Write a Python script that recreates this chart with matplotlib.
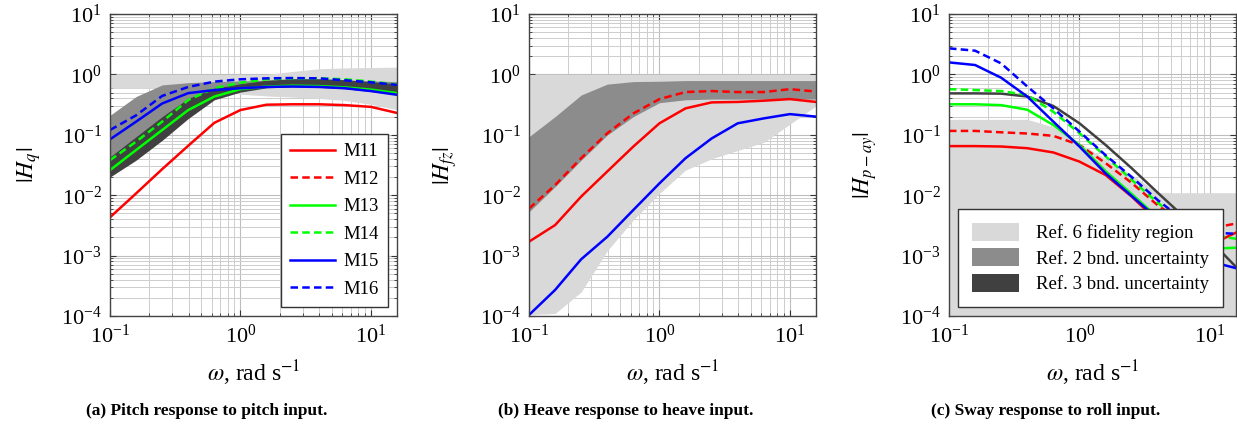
import matplotlib
matplotlib.use("Agg")
import matplotlib.pyplot as plt
from matplotlib.ticker import LogLocator, NullFormatter
from matplotlib.patches import Patch

plt.rcParams['font.family'] = 'serif'
plt.rcParams['font.serif'] = ['Liberation Serif', 'DejaVu Serif']
plt.rcParams['mathtext.fontset'] = 'stix'

# ---------------- data ----------------
freq = [0.1, 0.1585, 0.2512, 0.3981, 0.631, 1.0, 1.585, 2.512, 3.981, 6.31, 10.0, 15.85]

# (a) pitch response to pitch input
a_M11 = [0.0043, 0.0107, 0.027, 0.066, 0.158, 0.257, 0.315, 0.32, 0.32, 0.31, 0.29, 0.23]
a_M13 = [0.026, 0.056, 0.12, 0.257, 0.43, 0.57, 0.63, 0.65, 0.64, 0.61, 0.56, 0.49]
a_M14 = [0.038, 0.077, 0.165, 0.377, 0.59, 0.73, 0.83, 0.86, 0.86, 0.83, 0.76, 0.68]
a_M15 = [0.084, 0.165, 0.33, 0.49, 0.55, 0.59, 0.62, 0.63, 0.62, 0.59, 0.53, 0.46]
a_M16 = [0.12, 0.21, 0.44, 0.62, 0.76, 0.83, 0.86, 0.87, 0.86, 0.80, 0.74, 0.67]
a_ref6_lo = [0.59, 0.59, 0.59, 0.59, 0.55, 0.47, 0.44, 0.42, 0.40, 0.37, 0.32, 0.26]
a_ref6_hi = [1.0, 1.0, 1.0, 1.0, 1.0, 1.0, 1.0, 1.12, 1.24, 1.28, 1.30, 1.32]
a_ref2_lo = [0.040, 0.085, 0.19, 0.38, 0.57, 0.65, 0.66, 0.66, 0.65, 0.62, 0.58, 0.52]
a_ref2_hi = [0.21, 0.43, 0.67, 0.73, 0.76, 0.78, 0.80, 0.82, 0.82, 0.80, 0.78, 0.76]
a_ref3_lo = [0.020, 0.038, 0.081, 0.186, 0.38, 0.51, 0.60, 0.62, 0.61, 0.58, 0.52, 0.46]
a_ref3_hi = [0.043, 0.093, 0.20, 0.40, 0.59, 0.70, 0.80, 0.85, 0.85, 0.82, 0.76, 0.70]

# (b) heave response to heave input
b_M11 = [0.0017, 0.0032, 0.0095, 0.0247, 0.064, 0.155, 0.274, 0.344, 0.35, 0.367, 0.39, 0.35]
b_M12 = [0.006, 0.0147, 0.041, 0.106, 0.226, 0.39, 0.51, 0.53, 0.51, 0.51, 0.57, 0.52]
b_M15 = [0.000104, 0.00027, 0.00087, 0.00205, 0.0057, 0.0157, 0.041, 0.087, 0.155, 0.187, 0.22, 0.20]
b_ref6_lo = [0.000105, 0.00011, 0.00025, 0.0012, 0.0039, 0.0107, 0.026, 0.040, 0.055, 0.075, 0.150, 0.30]
b_ref6_hi = [1.0, 1.0, 1.0, 1.0, 1.0, 1.0, 1.0, 1.0, 1.0, 1.0, 1.0, 1.0]
b_ref2_lo = [0.0053, 0.0138, 0.038, 0.099, 0.20, 0.34, 0.38, 0.39, 0.39, 0.39, 0.39, 0.39]
b_ref2_hi = [0.093, 0.20, 0.456, 0.69, 0.76, 0.77, 0.79, 0.79, 0.79, 0.79, 0.79, 0.79]

# (c) sway response to roll input
c_M11 = [0.065, 0.065, 0.064, 0.060, 0.051, 0.036, 0.0216, 0.0095, 0.0037, 0.0016, 0.0015, 0.0024]
c_M12 = [0.116, 0.116, 0.11, 0.105, 0.096, 0.068, 0.034, 0.016, 0.0068, 0.0035, 0.0028, 0.0034]
c_M13 = [0.32, 0.32, 0.31, 0.26, 0.145, 0.068, 0.025, 0.0105, 0.0043, 0.0019, 0.0013, 0.00135]
c_M14 = [0.57, 0.55, 0.53, 0.456, 0.24, 0.106, 0.044, 0.018, 0.0075, 0.0035, 0.0022, 0.0019]
c_M15 = [1.58, 1.43, 0.88, 0.43, 0.165, 0.064, 0.023, 0.0097, 0.0041, 0.0017, 0.0008, 0.00062]
c_M16 = [2.7, 2.47, 1.52, 0.63, 0.274, 0.113, 0.046, 0.020, 0.0083, 0.0038, 0.0024, 0.0023]
c_ref3 = [0.485, 0.485, 0.48, 0.43, 0.30, 0.155, 0.068, 0.028, 0.011, 0.0044, 0.0018, 0.00065]
c_ref6_lo = [1e-4] * 12
c_ref6_hi = [0.18, 0.18, 0.18, 0.18, 0.135, 0.073, 0.04, 0.022, 0.011, 0.011, 0.011, 0.011]

series_names = ['M11', 'M12', 'M13', 'M14', 'M15', 'M16']
ref_names = ['Ref. 6 fidelity region', 'Ref. 2 bnd. uncertainty', 'Ref. 3 bnd. uncertainty']
ylabels = [r'$|H_q|$', r'$|H_{fz}|$', r'$|H_{p-ay}|$']
xlabel = r'$\omega$, rad s$^{-1}$'
captions = ['(a) Pitch response to pitch input.',
            '(b) Heave response to heave input.',
            '(c) Sway response to roll input.']

# ---------------- styles ----------------
RED, GREEN, BLUE = '#ff0000', '#00ff00', '#0000ff'
LIGHT, MED, DARK = '#d9d9d9', '#8c8c8c', '#404040'
LW = 1.8
DASH = (3.0, 1.7)
styles = {
    'M11': dict(color=RED, ls='-'),
    'M12': dict(color=RED, ls=(0, DASH)),
    'M13': dict(color=GREEN, ls='-'),
    'M14': dict(color=GREEN, ls=(0, DASH)),
    'M15': dict(color=BLUE, ls='-'),
    'M16': dict(color=BLUE, ls=(0, DASH)),
}

W, H = 1237, 426
fig = plt.figure(figsize=(W / 100, H / 100), dpi=100)
lefts = [110, 529, 949]
label_x = [-0.232, -0.245, -0.245]
axes = [fig.add_axes([l / W, (H - 316) / H, 287 / W, 302 / H]) for l in lefts]

TFS = 16
for ax, yl, cap, l, lx in zip(axes, ylabels, captions, lefts, label_x):
    ax.set_xscale('log')
    ax.set_yscale('log')
    ax.set_xlim(freq[0], freq[-1])
    ax.set_ylim(1e-4, 1e1)
    ax.set_xticks([0.1, 1, 10])
    ax.set_yticks([1e-4, 1e-3, 1e-2, 1e-1, 1e0, 1e1])
    ax.xaxis.set_minor_locator(LogLocator(base=10, subs=range(2, 10), numticks=20))
    ax.yaxis.set_minor_locator(LogLocator(base=10, subs=range(2, 10), numticks=20))
    ax.xaxis.set_minor_formatter(NullFormatter())
    ax.yaxis.set_minor_formatter(NullFormatter())
    ax.set_axisbelow(True)
    ax.grid(True, which='major', color='#bdbdbd', lw=0.8)
    ax.grid(True, which='minor', color='#cdcdcd', lw=0.7)
    ax.tick_params(which='both', direction='in', top=True, right=True, colors='#333333',
                   labelcolor='black', labelsize=TFS)
    ax.tick_params(which='major', length=4, pad=6)
    ax.tick_params(which='minor', length=2)
    for s in ax.spines.values():
        s.set_color('#444444')
        s.set_linewidth(1.0)
    ax.set_ylabel(yl, fontsize=17)
    ax.yaxis.set_label_coords(lx, 0.5)
    ax.set_xlabel(xlabel, fontsize=17, labelpad=8)
    fig.text((l + 143.5 - 47) / W, 15 / H, cap, ha='center', va='center',
             fontsize=12.5, fontweight='bold')

# panel (a)
ax = axes[0]
ax.fill_between(freq, a_ref6_lo, a_ref6_hi, color=LIGHT, lw=0, zorder=1)
ax.fill_between(freq, a_ref2_lo, a_ref2_hi, color=MED, lw=0, zorder=1.1)
ax.fill_between(freq, a_ref3_lo, a_ref3_hi, color=DARK, lw=0, zorder=1.2)
a_data = {'M11': a_M11, 'M12': None, 'M13': a_M13, 'M14': a_M14, 'M15': a_M15, 'M16': a_M16}
handles = []
for name in series_names:
    d = a_data[name]
    if d is None:
        h, = ax.plot([], [], lw=LW, label=name, **styles[name])
    else:
        h, = ax.plot(freq, d, lw=LW, label=name, zorder=2, **styles[name])
    handles.append(h)
leg = ax.legend(handles=handles, loc='lower right', bbox_to_anchor=(0.969, 0.03),
                borderaxespad=0, fontsize=13.5, frameon=True, fancybox=False, framealpha=1,
                edgecolor='#333333', handlelength=2.4, labelspacing=0.55,
                borderpad=0.5, handletextpad=0.45)
leg.get_frame().set_linewidth(1.0)
leg.set_zorder(5)

# panel (b)
ax = axes[1]
ax.fill_between(freq, b_ref6_lo, b_ref6_hi, color=LIGHT, lw=0, zorder=1)
ax.fill_between(freq, b_ref2_lo, b_ref2_hi, color=MED, lw=0, zorder=1.1)
for name, d in [('M11', b_M11), ('M12', b_M12), ('M15', b_M15)]:
    ax.plot(freq, d, lw=LW, zorder=2, **styles[name])

# panel (c)
ax = axes[2]
ax.fill_between(freq, c_ref6_lo, c_ref6_hi, color=LIGHT, lw=0, zorder=1)
ax.plot(freq, c_ref3, color=DARK, lw=LW, zorder=1.5)
c_data = {'M11': c_M11, 'M12': c_M12, 'M13': c_M13, 'M14': c_M14, 'M15': c_M15, 'M16': c_M16}
for name in series_names:
    ax.plot(freq, c_data[name], lw=LW, zorder=2, **styles[name])
patches = [Patch(facecolor=c, edgecolor='none') for c in (LIGHT, MED, DARK)]
leg = ax.legend(patches, ref_names, loc='lower left', bbox_to_anchor=(0.031, 0.03),
                borderaxespad=0, fontsize=13.5, frameon=True, fancybox=False, framealpha=1,
                edgecolor='#333333', handlelength=2.5, handleheight=1.1,
                labelspacing=0.32, borderpad=0.75, handletextpad=0.9)
leg.get_frame().set_linewidth(1.0)
leg.set_zorder(5)

fig.savefig('out.png', dpi=100)
